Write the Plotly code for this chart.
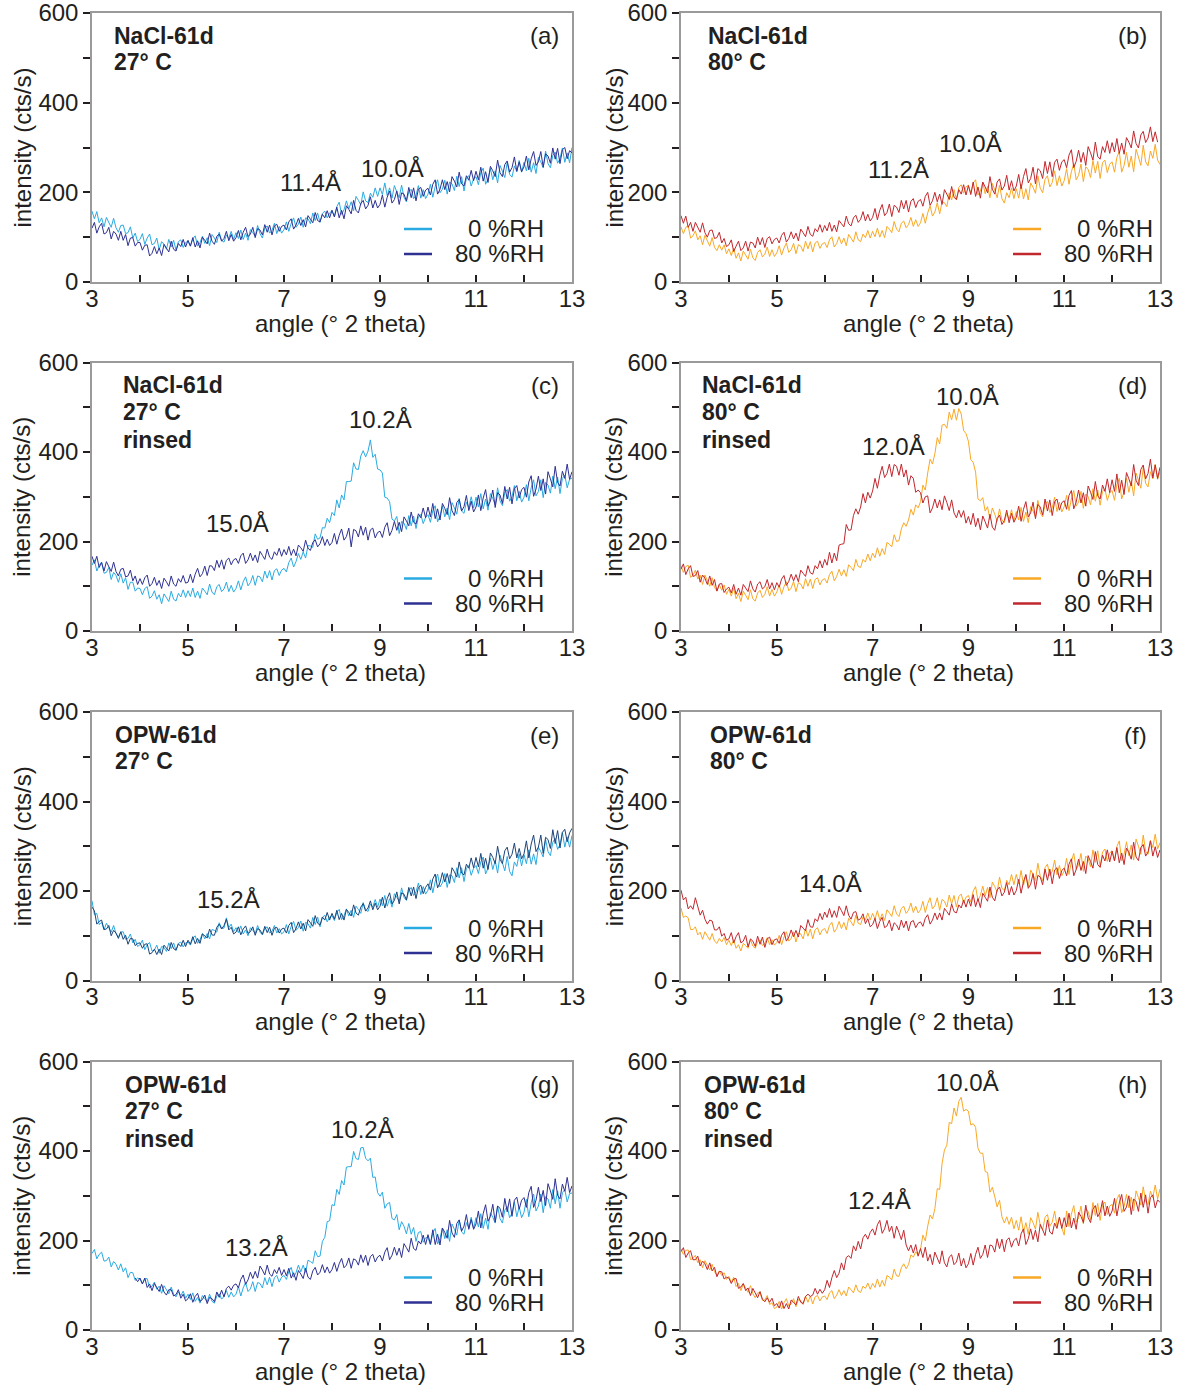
import plotly.graph_objects as go

angle = [3.0, 3.05, 3.1, 3.15, 3.2, 3.25, 3.3, 3.35, 3.4, 3.45, 3.5, 3.55, 3.6, 3.65, 3.7, 3.75, 3.8, 3.85, 3.9, 3.95,
         4.0, 4.05, 4.1, 4.15, 4.2, 4.25, 4.3, 4.35, 4.4, 4.45, 4.5, 4.55, 4.6, 4.65, 4.7, 4.75, 4.8, 4.85, 4.9, 4.95,
         5.0, 5.05, 5.1, 5.15, 5.2, 5.25, 5.3, 5.35, 5.4, 5.45, 5.5, 5.55, 5.6, 5.65, 5.7, 5.75, 5.8, 5.85, 5.9, 5.95,
         6.0, 6.05, 6.1, 6.15, 6.2, 6.25, 6.3, 6.35, 6.4, 6.45, 6.5, 6.55, 6.6, 6.65, 6.7, 6.75, 6.8, 6.85, 6.9, 6.95,
         7.0, 7.05, 7.1, 7.15, 7.2, 7.25, 7.3, 7.35, 7.4, 7.45, 7.5, 7.55, 7.6, 7.65, 7.7, 7.75, 7.8, 7.85, 7.9, 7.95,
         8.0, 8.05, 8.1, 8.15, 8.2, 8.25, 8.3, 8.35, 8.4, 8.45, 8.5, 8.55, 8.6, 8.65, 8.7, 8.75, 8.8, 8.85, 8.9, 8.95,
         9.0, 9.05, 9.1, 9.15, 9.2, 9.25, 9.3, 9.35, 9.4, 9.45, 9.5, 9.55, 9.6, 9.65, 9.7, 9.75, 9.8, 9.85, 9.9, 9.95,
         10.0, 10.05, 10.1, 10.15, 10.2, 10.25, 10.3, 10.35, 10.4, 10.45, 10.5, 10.55, 10.6, 10.65, 10.7, 10.75, 10.8, 10.85, 10.9, 10.95,
         11.0, 11.05, 11.1, 11.15, 11.2, 11.25, 11.3, 11.35, 11.4, 11.45, 11.5, 11.55, 11.6, 11.65, 11.7, 11.75, 11.8, 11.85, 11.9, 11.95,
         12.0, 12.05, 12.1, 12.15, 12.2, 12.25, 12.3, 12.35, 12.4, 12.45, 12.5, 12.55, 12.6, 12.65, 12.7, 12.75, 12.8, 12.85, 12.9, 12.95,
         13.0]

N = None

# (a) NaCl-61d 27 C
a_rh0 = [158,141,157,132,143,123,144,133,122,142,121,111,126,127,108,110,123,98,109,90,
         95,108,84,98,107,83,86,98,72,90,84,73,95,78,93,71,90,94,77,88,
         91,80,96,103,80,88,102,86,99,81,106,98,88,111,93,89,105,97,113,95,
         110,97,116,95,109,93,117,110,102,126,108,98,120,125,109,115,131,108,124,109,
         117,134,113,131,143,122,129,145,122,143,141,130,154,137,154,133,153,158,143,154,
         159,146,168,178,151,161,181,163,179,159,191,182,172,201,181,177,198,189,210,191,
         210,195,221,193,210,187,215,201,188,216,189,179,201,207,186,193,215,187,206,186,
         196,218,189,213,228,199,207,227,196,223,219,204,236,213,235,203,232,237,214,230,
         235,217,244,254,218,230,253,228,248,221,260,247,233,267,240,234,259,246,271,245,
         267,248,276,245,266,242,278,268,255,292,264,255,282,290,265,275,299,267,288,266,
         300]
a_rh80 = [120,133,109,123,131,107,110,122,96,113,107,93,113,93,106,81,98,99,80,88,
          88,71,82,83,58,64,79,63,76,59,84,76,67,91,73,69,86,79,95,78,
          93,80,99,78,92,76,100,93,85,109,91,84,102,107,91,97,113,92,106,91,
          99,115,94,111,122,101,107,122,99,119,116,105,128,111,127,105,125,129,113,124,
          127,116,134,141,118,127,142,126,139,123,148,140,132,155,137,134,151,143,159,143,
          160,145,167,143,160,141,170,162,152,182,160,154,175,182,163,171,190,165,182,165,
          173,194,167,189,203,176,184,203,173,199,196,181,211,188,210,181,207,211,191,205,
          209,194,218,228,196,207,228,206,224,201,235,225,212,245,219,214,237,227,249,226,
          247,228,256,225,246,222,258,248,235,272,244,235,262,270,245,255,279,247,268,246,
          257,281,250,275,291,260,268,291,256,286,281,265,299,274,298,264,295,300,275,293,
          288]
# (b) NaCl-61d 80 C
b_rh0 = [123,108,122,125,98,103,114,94,103,83,104,92,80,99,77,70,83,71,83,63,
         74,59,76,53,65,47,69,60,51,73,54,48,66,72,56,62,78,57,72,57,
         65,81,60,76,87,66,72,86,63,83,80,68,91,74,90,67,87,91,75,85,
         88,77,94,101,78,86,101,85,98,81,106,98,89,112,94,90,107,99,115,98,
         113,101,120,100,115,99,124,118,110,135,118,112,131,136,121,128,144,124,139,124,
         132,153,131,154,170,147,156,177,152,178,177,168,199,183,206,183,211,217,198,212,
         216,198,221,228,194,203,222,197,213,188,220,205,188,216,186,176,199,188,210,186,
         208,187,218,185,208,183,221,211,198,237,209,199,229,237,212,222,248,215,237,214,
         226,253,218,246,264,228,238,263,224,257,251,233,271,243,269,231,266,272,244,263,
         268,245,278,291,245,260,289,256,281,246,296,279,260,305,268,259,292,276,307,272,
         262]
b_rh80 = [148,131,147,122,133,113,133,123,111,132,110,100,115,116,97,99,111,87,97,79,
          83,94,68,80,91,70,76,91,69,89,87,76,100,83,99,77,97,101,85,95,
          98,87,104,111,89,97,112,96,109,92,118,110,101,124,106,102,119,112,128,111,
          126,114,133,113,127,112,137,130,123,147,130,125,143,149,133,140,157,136,151,136,
          144,164,139,160,173,148,155,174,146,171,167,155,182,163,182,156,180,186,166,180,
          184,169,191,200,171,181,200,179,196,173,206,196,184,213,189,184,206,196,217,194,
          215,195,223,191,212,187,223,212,199,235,207,196,223,230,205,214,238,205,226,203,
          214,240,208,235,253,221,231,256,219,253,248,231,269,242,268,235,267,274,249,268,
          273,255,283,295,255,269,294,267,289,260,302,288,272,312,280,274,302,289,315,287,
          311,290,320,287,310,285,322,312,299,337,309,299,328,336,311,321,346,313,335,312,
          N]
# (c) NaCl-61d 27 C rinsed
c_rh0 = [147,159,134,147,154,129,131,142,115,131,124,109,128,107,119,93,109,109,89,96,
         95,81,95,99,73,78,90,71,81,61,83,75,66,89,71,67,84,76,92,75,
         90,77,96,75,89,73,96,89,81,105,87,81,99,104,88,94,109,88,102,87,
         95,112,92,110,121,101,108,124,102,123,121,110,134,118,135,114,135,139,124,136,
         140,132,153,163,143,155,173,160,177,163,191,190,187,217,205,208,231,230,252,242,
         265,258,293,275,304,293,334,334,335,376,362,361,391,403,389,402,427,388,395,362,
         360,353,299,297,289,250,246,256,218,245,241,227,258,235,257,229,255,260,240,254,
         260,243,269,280,244,257,279,255,275,249,287,275,261,296,268,263,288,276,300,275,
         299,277,307,273,295,270,307,296,282,320,291,280,309,316,290,300,325,291,312,288,
         299,327,291,320,338,302,312,338,298,332,326,308,346,318,344,307,341,348,320,339,
         342]
c_rh80 = [167,151,167,142,153,134,155,144,133,154,133,123,138,140,121,123,136,112,123,104,
          117,104,119,125,100,106,120,102,113,95,118,110,100,123,105,100,117,109,124,107,
          109,127,108,127,140,121,128,145,124,146,145,135,158,142,159,138,158,163,148,159,
          162,151,168,174,151,159,174,157,170,153,178,169,160,183,165,160,177,169,185,167,
          182,170,189,169,183,168,192,186,178,203,185,180,198,204,188,195,211,191,205,191,
          198,218,194,214,228,203,211,230,188,227,224,210,235,214,232,203,226,230,208,220,
          223,209,232,242,213,225,245,225,243,222,255,246,235,266,243,239,262,253,275,253,
          277,255,285,251,273,248,285,274,260,298,269,258,287,294,268,278,303,269,290,266,
          277,304,269,297,316,279,290,315,276,309,304,285,323,295,321,284,318,325,297,316,
          321,299,333,347,301,317,346,314,340,306,356,340,322,368,332,324,357,341,373,339,
          356]
# (d) NaCl-61d 80 C rinsed
d_rh0 = [146,131,144,147,120,124,136,116,125,104,125,113,100,119,97,90,103,91,103,82,
         93,78,95,72,84,66,89,80,70,92,72,67,85,91,75,82,99,78,93,78,
         87,103,82,99,110,90,96,111,88,108,105,94,117,100,116,95,115,119,103,114,
         117,107,126,134,112,122,138,123,137,122,148,142,135,160,144,142,160,154,172,157,
         174,164,186,167,184,171,198,194,188,215,200,202,228,242,234,248,272,259,282,275,
         289,326,315,353,384,373,396,432,418,460,462,453,489,472,496,471,497,485,448,441,
         424,383,377,355,295,291,298,268,278,249,275,261,245,273,248,242,263,250,271,247,
         267,248,276,245,266,242,278,268,255,292,264,255,282,290,265,275,299,267,288,266,
         278,303,269,295,314,279,288,312,274,306,300,282,318,290,315,281,312,318,292,309,
         314,292,327,341,295,311,342,310,336,302,353,337,319,365,330,322,356,340,373,339,
         356]
d_rh80 = [138,150,126,139,146,122,124,135,109,125,118,104,123,102,115,89,105,106,86,94,
          98,85,104,82,96,80,104,96,88,112,94,87,105,110,94,99,115,94,108,92,
          108,98,116,124,102,111,127,112,126,110,136,129,122,146,130,127,146,139,157,141,
          160,147,176,152,174,157,192,194,195,238,225,226,258,273,261,277,307,286,310,297,
          313,341,319,348,368,343,352,373,345,372,368,348,373,344,360,326,347,341,310,315,
          309,286,300,302,264,275,295,275,293,271,302,287,269,293,264,253,270,254,269,241,
          256,238,263,233,252,226,257,244,230,261,232,225,251,259,238,247,270,242,263,243,
          254,279,245,272,289,255,264,288,251,283,277,259,295,268,293,258,289,295,270,287,
          291,272,303,314,273,288,315,286,309,279,324,310,294,334,302,295,326,312,340,309,
          338,312,351,309,337,305,354,340,324,372,337,325,361,371,340,352,384,342,371,341,
          366]
# (e) OPW-61d 27 C
e_rh0 = [178,147,150,125,130,113,128,119,108,123,105,97,108,109,92,94,104,84,92,76,
         80,90,69,80,85,66,68,79,61,76,74,65,84,71,84,67,83,86,75,84,
         86,79,94,100,83,91,105,93,105,93,114,112,108,129,117,117,140,118,126,109,
         118,107,122,104,113,100,118,112,105,123,108,102,116,120,106,110,123,106,116,104,
         109,125,104,121,132,112,118,133,110,130,127,117,141,125,142,120,141,146,131,142,
         145,134,152,159,136,145,160,144,157,141,166,159,150,174,159,154,171,164,181,164,
         182,167,190,166,183,164,194,186,177,207,186,179,201,208,190,198,218,192,210,193,
         202,225,196,221,238,209,218,239,208,236,234,219,252,229,252,221,250,257,235,251,
         257,239,265,276,238,251,274,248,268,240,280,263,245,277,244,234,265,255,283,256,
         281,261,292,260,283,259,298,288,276,315,288,279,309,318,293,304,331,298,321,298,
         324]
e_rh80 = [164,156,126,132,135,114,115,123,100,112,106,94,109,92,101,81,94,93,78,83,
          84,72,81,82,59,62,70,58,70,58,79,73,66,85,71,68,82,76,90,76,
          90,81,98,82,94,83,104,100,95,115,102,101,119,126,115,123,137,113,119,104,
          108,120,102,115,122,105,109,120,101,116,113,103,121,107,119,101,117,119,106,115,
          117,106,123,130,107,116,131,115,128,111,136,129,121,145,128,124,142,135,152,135,
          150,137,157,136,150,135,159,152,144,169,151,146,164,172,155,162,178,158,173,158,
          166,186,162,183,196,171,179,198,171,196,193,180,208,189,209,183,208,213,194,208,
          216,202,227,238,207,219,241,220,239,217,252,243,231,265,240,236,260,251,274,252,
          275,254,284,251,273,248,285,275,261,300,271,261,290,298,272,282,307,274,295,272,
          283,312,274,305,325,288,298,325,284,320,315,295,337,306,335,296,331,338,310,330,
          340]
# (f) OPW-61d 80 C
f_rh0 = [162,141,144,140,114,114,120,102,108,92,109,100,90,105,88,83,94,86,96,80,
         90,78,91,72,80,66,83,78,72,91,77,72,87,91,78,83,96,80,91,79,
         85,101,80,97,109,88,94,109,86,106,104,93,116,99,115,93,113,118,102,113,
         116,105,123,130,108,116,132,116,130,113,139,131,122,146,128,125,142,135,151,135,
         150,137,156,135,149,134,158,151,143,167,149,143,161,166,150,157,173,152,166,151,
         158,177,152,172,185,160,167,185,157,181,177,164,191,171,190,164,188,193,173,186,
         190,175,200,210,179,190,211,189,208,185,220,210,198,231,206,201,224,214,237,214,
         237,216,246,213,235,210,247,237,223,262,233,223,252,260,234,244,269,236,257,234,
         245,273,237,266,284,248,258,284,244,278,272,254,292,264,290,253,287,294,266,285,
         290,268,299,312,267,282,310,279,303,269,316,300,282,325,289,282,313,297,327,294,
         308]
f_rh80 = [202,180,186,160,167,159,185,166,146,157,137,126,135,133,113,113,120,99,105,90,
          93,107,84,98,107,84,88,101,75,93,88,76,99,81,97,74,93,97,80,91,
          93,83,101,109,88,97,113,98,112,97,123,117,111,136,120,119,138,132,150,136,
          153,141,161,141,156,141,166,156,145,167,146,137,152,154,135,138,149,127,138,120,
          125,139,116,132,141,118,122,135,111,129,124,113,135,118,133,111,131,134,118,128,
          131,121,139,147,126,135,151,136,151,135,161,154,146,171,154,151,169,162,180,164,
          182,166,192,165,183,163,195,186,177,209,186,178,202,209,189,197,219,191,210,191,
          201,226,195,221,237,206,215,239,204,235,231,214,249,224,249,216,247,252,228,246,
          251,234,260,272,234,248,271,246,266,239,279,266,251,288,259,253,280,267,292,265,
          289,267,297,263,285,259,296,286,271,309,276,268,297,304,278,287,312,278,299,275,
          292]
# (g) OPW-61d 27 C rinsed
g_rh0 = [171,180,159,169,174,154,155,163,141,153,147,134,148,130,139,117,129,128,111,116,
         114,103,114,115,94,98,107,91,98,82,99,90,81,96,80,74,85,77,87,71,
         80,68,83,64,73,60,77,70,63,80,64,60,76,81,69,75,88,73,85,74,
         80,97,76,94,106,86,92,108,86,106,104,94,117,101,118,97,117,122,107,118,
         122,113,131,140,118,128,145,130,145,129,156,153,149,177,164,165,198,207,242,244,
         280,278,314,303,334,324,364,365,365,399,383,381,407,408,384,378,384,341,342,307,
         299,308,272,282,285,249,246,258,224,242,232,215,238,214,229,198,218,220,196,206,
         207,190,217,227,192,205,228,204,224,198,237,225,212,246,219,214,240,228,252,227,
         251,230,260,227,250,225,262,252,239,277,249,239,268,276,251,261,286,253,275,251,
         263,292,253,284,304,266,277,304,262,298,293,272,314,282,311,272,307,314,286,305,
         306]
g_rh80 = [N,N,N,N,N,N,N,N,N,N,N,N,N,N,N,N,N,N,116,108,
          116,103,116,95,103,88,104,96,86,102,85,78,90,90,76,79,90,71,80,65,
          70,81,62,75,82,64,68,78,59,73,70,63,85,73,89,74,93,98,89,100,
          103,94,113,123,102,112,129,115,131,116,143,134,123,145,125,120,135,126,140,122,
          135,121,138,116,128,111,133,125,115,138,118,113,132,140,123,129,146,128,141,127,
          135,151,131,148,160,139,145,161,138,159,156,145,168,151,167,144,164,169,152,163,
          167,154,174,184,157,167,185,167,183,162,193,184,174,205,182,178,199,192,212,191,
          213,192,224,191,214,190,228,218,205,245,217,207,238,246,221,232,258,225,247,225,
          237,266,228,260,280,243,254,281,241,277,272,252,294,264,293,254,290,297,270,290,
          296,274,307,321,274,290,319,287,312,278,327,311,292,338,301,293,326,310,341,307,
          322]
# (h) OPW-61d 80 C rinsed
h_rh0 = [181,169,178,179,157,160,167,150,157,139,155,145,134,147,130,122,132,122,128,113,
         120,106,118,97,104,88,103,94,84,99,81,72,83,83,66,67,77,57,61,48,
         51,64,47,61,70,54,58,70,52,68,66,57,76,62,76,58,74,77,65,74,
         76,68,83,88,70,78,90,77,88,76,96,90,83,101,87,84,98,93,105,91,
         104,95,114,96,111,98,122,118,112,136,121,120,139,148,137,146,168,163,175,167,
         180,212,199,232,257,248,271,316,314,372,402,413,464,461,496,478,511,520,489,493,
         489,458,461,453,406,395,395,354,352,308,319,298,275,290,253,239,253,236,252,226,
         245,223,253,218,240,214,251,240,225,263,234,223,252,258,232,241,266,232,252,228,
         212,266,231,259,278,241,251,277,237,271,265,246,285,256,283,245,279,286,258,277,
         281,261,292,303,262,276,303,273,297,266,311,296,279,320,287,280,310,296,324,293,
         315]
h_rh80 = [175,184,162,172,177,157,157,165,143,154,148,135,150,132,140,119,131,130,114,118,
          116,104,114,115,93,96,104,88,94,77,93,83,72,86,69,63,72,62,71,54,
          59,49,65,48,59,47,67,62,56,75,62,59,75,80,75,78,93,80,91,82,
          90,111,95,117,133,117,127,150,134,162,166,160,188,177,198,181,206,214,203,218,
          226,212,235,245,216,226,245,220,232,205,232,218,202,223,190,177,190,172,191,165,
          182,162,185,154,169,146,174,161,148,177,150,141,163,168,146,152,172,143,160,139,
          148,171,145,169,185,160,169,190,162,190,188,174,204,182,203,175,201,206,185,200,
          205,188,215,226,191,204,226,202,223,197,236,224,211,246,219,214,239,227,252,227,
          251,230,261,228,250,225,263,254,240,279,251,240,270,278,253,263,289,255,277,254,
          266,294,255,284,303,265,275,300,258,293,287,265,306,274,302,261,296,302,273,291,
          285]

x_ticks = [3, 4, 5, 6, 7, 8, 9, 10, 11, 12, 13]
x_ticklabels = ["3", "", "5", "", "7", "", "9", "", "11", "", "13"]
y_ticks = [0, 100, 200, 300, 400, 500, 600]
y_ticklabels = ["0", "", "200", "", "400", "", "600"]
legend_labels = ["0 %RH", "80 %RH"]

panel_letters = ["(a)", "(b)", "(c)", "(d)", "(e)", "(f)", "(g)", "(h)"]
panel_titles = [["NaCl-61d", "27° C"], ["NaCl-61d", "80° C"],
                ["NaCl-61d", "27° C", "rinsed"], ["NaCl-61d", "80° C", "rinsed"],
                ["OPW-61d", "27° C"], ["OPW-61d", "80° C"],
                ["OPW-61d", "27° C", "rinsed"], ["OPW-61d", "80° C", "rinsed"]]
series = [(a_rh0, a_rh80), (b_rh0, b_rh80), (c_rh0, c_rh80), (d_rh0, d_rh80),
          (e_rh0, e_rh80), (f_rh0, f_rh80), (g_rh0, g_rh80), (h_rh0, h_rh80)]
peak_labels = [
    [(7.55, 223, "11.4Å"), (9.26, 254, "10.0Å")],
    [(7.55, 250, "11.2Å"), (9.05, 310, "10.0Å")],
    [(6.04, 240, "15.0Å"), (9.02, 473, "10.2Å")],
    [(7.43, 412, "12.0Å"), (8.99, 524, "10.0Å")],
    [(5.84, 180, "15.2Å")],
    [(6.13, 216, "14.0Å")],
    [(6.42, 185, "13.2Å"), (8.64, 447, "10.2Å")],
    [(7.15, 290, "12.4Å"), (8.99, 554, "10.0Å")],
]

W, H = 1178, 1387
FONT = "Liberation Sans, Arial, sans-serif"
TXT = "#231f20"
BLUE_L, BLUE_D = "#29abe2", "#2e3192"
ORANGE, RED = "#f9a825", "#c1272d"

col_x = [(92, 572), (681, 1160)]
row_y = [(13, 282), (362.5, 631), (712, 980.5), (1061.5, 1330)]
title_dx = [20, 25, 29, 19, 21, 27, 31, 21]

fig = go.Figure()
annotations = []
shapes = []
for i in range(8):
    r, c = divmod(i, 2)
    x0, x1 = col_x[c]
    yt, yb = row_y[r]
    pw, ph = x1 - x0, yb - yt
    n = i + 1
    xa = "x" if n == 1 else f"x{n}"
    ya = "y" if n == 1 else f"y{n}"
    sfx = "" if n == 1 else str(n)
    warm = (c == 1)
    col0 = ORANGE if warm else BLUE_L
    col80 = RED if warm else BLUE_D
    curve80 = "#1d4478" if i == 4 else col80
    s0, s80 = series[i]
    fig.add_trace(go.Scatter(x=angle, y=s0, mode="lines", line=dict(color=col0, width=1),
                             xaxis=xa, yaxis=ya, showlegend=False, connectgaps=False))
    fig.add_trace(go.Scatter(x=angle, y=s80, mode="lines", line=dict(color=curve80, width=1),
                             xaxis=xa, yaxis=ya, showlegend=False, connectgaps=False))
    fig.update_layout(**{
        f"xaxis{sfx}": dict(domain=[x0 / W, x1 / W], anchor=ya, range=[3, 13], automargin=False,
                            tickvals=x_ticks, ticktext=x_ticklabels, ticks="inside",
                            ticklen=7, tickwidth=1.5, tickcolor=TXT, ticklabelstandoff=-6,
                            ticklabeloverflow="allow",
                            showline=True, linecolor="#9a9a9a", linewidth=1.5, mirror=True,
                            showgrid=False, zeroline=False,
                            tickfont=dict(family=FONT, size=24, color=TXT)),
        f"yaxis{sfx}": dict(domain=[1 - yb / H, 1 - yt / H], anchor=xa, range=[0, 600], automargin=False,
                            tickvals=y_ticks, ticktext=y_ticklabels, ticks="outside",
                            ticklen=7, tickwidth=1.5, tickcolor=TXT, ticklabeloverflow="allow",
                            showline=True, linecolor="#9a9a9a", linewidth=1.5, mirror=True,
                            showgrid=False, zeroline=False,
                            tickfont=dict(family=FONT, size=24, color=TXT)),
    })
    xd, yd = f"{xa} domain", f"{ya} domain"
    annotations.append(dict(text="angle (° 2 theta)", xref=xd, yref=yd, x=0.517, y=-41 / ph,
                            xanchor="center", yanchor="middle", showarrow=False,
                            font=dict(family=FONT, size=24, color=TXT)))
    annotations.append(dict(text="intensity (cts/s)", xref=xd, yref=yd, x=-(70 if c == 0 else 67) / pw,
                            y=0.5, textangle=-90, xanchor="center", yanchor="middle",
                            showarrow=False, font=dict(family=FONT, size=24, color=TXT)))
    for k, line in enumerate(panel_titles[i]):
        dy = [23, 49, 77][k]
        annotations.append(dict(text=f"<b>{line}</b>", xref=xd, yref=yd, x=title_dx[i] / pw,
                                y=1 - dy / ph, xanchor="left", yanchor="middle", showarrow=False,
                                font=dict(family=FONT, size=23, color=TXT)))
    annotations.append(dict(text=panel_letters[i], xref=xd, yref=yd, x=1 - 11 / pw, y=1 - 23 / ph,
                            xanchor="right", yanchor="middle", showarrow=False,
                            font=dict(family=FONT, size=24, color=TXT)))
    for (px, py, lab) in peak_labels[i]:
        annotations.append(dict(text=lab, xref=xa, yref=ya, x=px, y=py, xanchor="center",
                                yanchor="middle", showarrow=False,
                                font=dict(family=FONT, size=24, color=TXT)))
    lx0, lx1, tx = (312, 340, 454) if c == 0 else (332, 360, 474)
    for k, (lab, colr) in enumerate(zip(legend_labels, [col0, col80])):
        ly = 1 - (216 + 25 * k) / ph
        shapes.append(dict(type="line", xref=xd, yref=yd, x0=lx0 / pw, x1=lx1 / pw, y0=ly, y1=ly,
                           line=dict(color=colr, width=2.5)))
        annotations.append(dict(text=lab, xref=xd, yref=yd, x=tx / pw, y=ly, xanchor="right",
                                yanchor="middle", showarrow=False,
                                font=dict(family=FONT, size=24, color=TXT)))

fig.update_layout(width=W, height=H, margin=dict(l=0, r=0, t=0, b=0),
                  paper_bgcolor="white", plot_bgcolor="white",
                  annotations=annotations, shapes=shapes, showlegend=False)
# Remove the browser's default 8px page margin so the figure fills the window exactly.
fig.write_html("out.html", config={"displayModeBar": False},
               post_script="document.body.style.margin='0';")
